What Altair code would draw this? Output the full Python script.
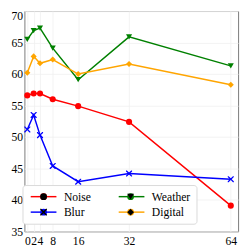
import altair as alt
import pandas as pd

# ---- data ----
x_vals = [0, 2, 4, 8, 16, 32, 64]
noise = [56.6, 56.9, 56.9, 56.0, 54.9, 52.4, 39.1]
blur = [51.2, 53.5, 50.3, 45.4, 42.9, 44.2, 43.3]
weather = [65.5, 66.9, 67.3, 64.1, 59.1, 65.9, 61.3]
digital = [60.2, 62.8, 61.7, 62.3, 60.0, 61.6, 58.3]

# legend order (filled column by column in a 2-column legend)
series_names = ["Noise", "Blur", "Weather", "Digital"]
series_colors = ["#ff0000", "#0000ff", "#008000", "#ffa500"]
# thin filled "x" polygon for the Blur marker
X_PATH = ("M-1,-1L-0.7,-1L0,-0.3L0.7,-1L1,-1L1,-0.7L0.3,0L1,0.7L1,1L0.7,1"
          "L0,0.3L-0.7,1L-1,1L-1,0.7L-0.3,0L-1,-0.7Z")
series_markers = ["circle", X_PATH, "triangle-down", "diamond"]

x_ticks = [0, 2, 4, 8, 16, 32, 64]
y_ticks = [35, 40, 45, 50, 55, 60, 65, 70]

rows = []
for name, vals in zip(["Noise", "Blur", "Weather", "Digital"], [noise, blur, weather, digital]):
    for x, v in zip(x_vals, vals):
        rows.append({"step": x, "acc": v, "series": name, "label": name})
df = pd.DataFrame(rows)

FONT = "Liberation Serif"

x_enc = alt.X("step:Q",
              scale=alt.Scale(domain=[-0.9, 66.3], nice=False, zero=False),
              axis=alt.Axis(values=x_ticks, title=None, labelOverlap=False,
                            labelFlush=False, labelPadding=5, format="d"))
y_enc = alt.Y("acc:Q",
              scale=alt.Scale(domain=[35, 70], nice=False, zero=False),
              axis=alt.Axis(values=y_ticks, title=None, labelPadding=2,
                            labelFlush=False, labelOverlap=False, format="d",
                            labelBaseline={"condition": {"test": "datum.value == 70", "value": "top"},
                                           "value": "middle"}))

common_legend = dict(title=None, orient="none", legendX=-2, legendY=180, columns=2,
                     symbolSize=49, symbolOffset=9.8, labelOffset=15,
                     columnPadding=25, rowPadding=4, padding=6,
                     labelFont=FONT, labelFontSize=12, labelColor="black")

line_legend = alt.Legend(symbolType="M-3.8,0H3.8", symbolStrokeWidth=1.5,
                         fillColor="white", strokeColor="#d9d9d9", cornerRadius=3,
                         zindex=1, **common_legend)
marker_legend = alt.Legend(symbolStrokeWidth=0, labelOpacity=0, zindex=2,
                           **common_legend)

lines = alt.Chart(df).mark_line(strokeWidth=1.5).encode(
    x=x_enc, y=y_enc,
    stroke=alt.Stroke("series:N",
                      scale=alt.Scale(domain=series_names, range=series_colors),
                      legend=line_legend),
)

points = alt.Chart(df).mark_point(filled=True, size=40, strokeWidth=0, opacity=1).encode(
    x=x_enc, y=y_enc,
    color=alt.Color("label:N", sort=series_names,
                    scale=alt.Scale(range=series_colors), legend=marker_legend),
    shape=alt.Shape("label:N", sort=series_names,
                    scale=alt.Scale(range=series_markers), legend=marker_legend),
)

chart = (lines + points).properties(
    width=221, height=228,
    autosize=alt.AutoSizeParams(type="none"),
    padding={"left": 17, "top": -1, "right": 3, "bottom": 14},
    background="white",
).configure_view(
    stroke="#777777", strokeWidth=1
).configure_axis(
    grid=True, gridColor="#efefef", gridWidth=0.8, domain=False, ticks=False,
    labelFont=FONT, labelFontSize=12, labelColor="black"
)

chart.save("out.html", embed_options={"renderer": "svg", "actions": False})
